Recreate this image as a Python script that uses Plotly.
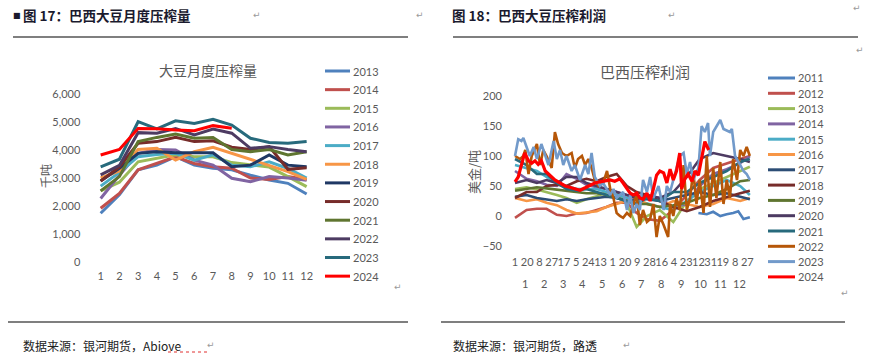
import plotly.graph_objects as go

W, H = 889, 361

# ---------------- Left chart data: monthly crush (千吨) ----------------
months = list(range(1, 13))
crush_years = [2013, 2014, 2015, 2016, 2017, 2018, 2019, 2020, 2021, 2022, 2023, 2024]
crush_2013 = [1740, 2400, 3290, 3460, 3760, 3460, 3350, 3290, 3100, 2930, 2810, 2430]
crush_2014 = [1920, 2450, 3290, 3520, 3760, 3520, 3400, 3350, 3000, 2950, 3050, 2950]
crush_2015 = [2540, 2850, 3580, 3700, 3830, 3760, 3760, 3550, 3460, 3390, 3050, 2690]
crush_2016 = [2270, 3100, 3880, 4020, 4000, 3640, 3460, 2990, 2870, 3050, 3000, 2920]
crush_2017 = [2710, 3200, 3760, 3840, 3880, 3640, 3830, 3460, 3400, 3580, 3340, 3000]
crush_2018 = [3000, 3250, 4020, 4060, 3640, 3940, 4100, 3880, 3670, 3460, 3230, 2950]
crush_2019 = [2890, 3350, 3880, 3940, 3900, 3900, 3900, 3400, 3460, 3820, 3460, 3400]
crush_2020 = [2890, 3400, 4240, 4300, 4450, 4300, 4330, 4100, 4020, 4120, 3310, 3370]
crush_2021 = [2540, 3050, 4300, 4450, 4570, 4420, 4450, 4020, 3940, 4020, 3820, 3940]
crush_2022 = [3110, 3450, 4620, 4600, 4770, 4540, 4750, 4600, 4060, 4120, 4020, 3940]
crush_2023 = [3400, 3670, 5010, 4750, 5040, 4950, 5100, 4890, 4420, 4270, 4240, 4300]
crush_2024 = [3820, 4020, 4770, 4760, 4710, 4690, 4870, 4780, None, None, None, None]
crush_series = [crush_2013, crush_2014, crush_2015, crush_2016, crush_2017, crush_2018,
                crush_2019, crush_2020, crush_2021, crush_2022, crush_2023, crush_2024]
crush_colors = ['#4F81BD', '#C0504D', '#9BBB59', '#8064A2', '#4BACC6', '#F79646',
                '#1F3864', '#772C2A', '#5F7530', '#4D3B62', '#276A7C', '#FF0000']
crush_yticks = [0, 1000, 2000, 3000, 4000, 5000, 6000]
crush_yticktext = ['0', '1,000', '2,000', '3,000', '4,000', '5,000', '6,000']

# ---------------- Right chart data: crush margin (美金/吨), x = day of year ----------------
margin_years = [2011, 2012, 2013, 2014, 2015, 2016, 2017, 2018, 2019, 2020, 2021, 2022, 2023, 2024]
grid_doy = [1, 19, 35, 50, 66, 81, 97, 112, 128, 143, 159, 175, 190, 206, 226, 247, 268, 288, 309, 330, 351, 366]

m2011_x = [286, 299, 309, 320, 330, 340, 348, 356, 366]
m2011_y = [5, 3, 7, 0, 3, 5, 8, -5, -2]
m2012_y = [-3, 10, 12, 12, 2, 0, 4, 5, 10, 15, 22, 22, 5, -5, -8, 10, 35, 60, 80, 88, 95, 100]
m2013_y = [45, 48, 44, 40, 35, 30, 22, 28, 33, 40, 38, 20, -18, 0, 10, -10, 25, 45, 55, 65, 75, 82]
m2014_y = [75, 62, 58, 52, 50, 70, 62, 52, 48, 45, 40, 35, 30, 35, 30, 15, 20, 50, 70, 78, 88, 100]
m2015_y = [85, 80, 75, 65, 55, 50, 45, 45, 45, 40, 35, 30, 25, 20, 15, 10, 25, 40, 50, 60, 50, 35]
m2016_y = [30, 25, 28, 22, 18, 10, 4, 6, 8, 15, 20, 25, 30, 20, 15, 25, 20, 15, 20, 30, 25, 30]
m2017_y = [32, 35, 30, 28, 25, 28, 25, 28, 30, 32, 30, 25, 28, 28, 25, 30, 35, 40, 35, 38, 32, 28]
m2018_y = [30, 40, 40, 50, 52, 50, 58, 62, 58, 65, 70, 50, 40, 35, 25, 15, 8, 15, 25, 32, 38, 42]
m2019_y = [42, 45, 48, 46, 44, 42, 40, 38, 38, 35, 30, 25, 20, 20, 15, 18, 22, 30, 35, 45, 58, 60]
m2020_y = [55, 60, 55, 60, 55, 65, 65, 55, 50, 45, 40, 35, 30, 35, 30, 40, 65, 95, 105, 100, 95, 90]
m2021_y = [95, 85, 70, 70, 55, 45, 42, 45, 40, 35, 30, 25, 20, 30, 25, 40, 40, 55, 65, 75, 90, 95]

m2022_x = [1, 9, 14, 17, 22, 27, 35, 40, 45, 50, 58, 63, 68, 74, 81, 89, 94, 99, 105, 110, 115, 120,
           125, 131, 138, 144, 149, 154, 159, 164, 169, 175, 180, 185, 190, 195, 200, 206, 211, 216,
           221, 226, 232, 239, 242, 247, 252, 257, 263, 268, 273, 278, 283, 288, 294, 299, 304, 309,
           314, 320, 325, 330, 335, 340, 346, 351, 356, 361, 366]
m2022_y = [100, 95, 100, 110, 70, 100, 120, 85, 110, 100, 80, 140, 120, 105, 100, 105, 80, 95, 100, 85,
           95, 80, 60, 50, 55, 75, 45, 30, 5, 0, -3, 5, 0, 20, 35, -15, 10, -10, -5, 20, -35, 0, -15,
           -35, 20, 0, 30, 10, 85, 10, 30, 75, 20, 60, 5, 100, 15, 80, 30, 90, 20, 60, 30, 95, 60, 110,
           100, 115, 100]

m2023_x = [1, 6, 11, 14, 19, 24, 30, 35, 42, 48, 53, 58, 61, 66, 71, 76, 81, 89, 94, 102, 110, 115,
           120, 125, 133, 138, 149, 154, 159, 169, 175, 180, 185, 190, 195, 200, 206, 211, 216, 224,
           232, 237, 242, 257, 263, 268, 273, 278, 286, 291, 296, 301, 304, 309, 320, 325, 335, 338,
           343, 351, 356, 361, 366]
m2023_y = [100, 128, 125, 130, 115, 100, 115, 95, 120, 100, 85, 110, 125, 95, 110, 85, 100, 75, 85,
           60, 85, 70, 105, 65, 50, 55, 35, 45, 30, 40, 10, 35, 5, 20, 10, 60, 40, 65, 30, 50, 10, 50,
           40, 100, 105, 70, 90, 60, 80, 150, 140, 155, 100, 140, 160, 145, 140, 145, 100, 85, 75, 70, 60]

m2024_x = [1, 6, 11, 16, 22, 27, 32, 37, 42, 48, 53, 58, 63, 71, 79, 86, 94, 102, 110, 118, 125, 133,
           141, 149, 156, 164, 169, 175, 180, 185, 190, 195, 200, 206, 211, 216, 221, 226, 232, 237,
           242, 247, 252, 257, 260, 265, 270, 276, 281, 286, 291, 296, 302]
m2024_y = [57, 65, 85, 105, 92, 88, 92, 86, 92, 75, 70, 65, 60, 55, 50, 48, 45, 43, 47, 52, 55, 57,
           58, 60, 58, 62, 55, 45, 38, 35, 38, 30, 28, 38, 25, 45, 68, 75, 72, 55, 78, 60, 75, 105, 45,
           62, 70, 58, 75, 68, 100, 124, 110]

margin_x = [m2011_x] + [grid_doy] * 10 + [m2022_x, m2023_x, m2024_x]
margin_y = [m2011_y, m2012_y, m2013_y, m2014_y, m2015_y, m2016_y, m2017_y, m2018_y, m2019_y,
            m2020_y, m2021_y, m2022_y, m2023_y, m2024_y]
margin_colors = ['#4F81BD', '#C0504D', '#9BBB59', '#8064A2', '#4BACC6', '#F79646', '#2C4D75',
                 '#772C2A', '#5F7530', '#4D3B62', '#276A7C', '#B65708', '#729ACA', '#FF0000']
margin_yticks = [-50, 0, 50, 100, 150, 200]
day_tick_doy = [1, 20, 39, 58, 77, 96, 115, 134, 153, 172, 191, 210, 229, 248, 267, 286, 305, 324, 343, 362]
day_tick_text = ['1', '20', '8', '27', '17', '5', '24', '13', '1', '20', '9', '28', '16', '4', '23',
                 '12', '31', '19', '8', '27']
month_center_doy = [16, 45.5, 75.5, 106, 136.5, 167, 197.5, 228.5, 259, 289.5, 320, 350.5]
month_labels = [str(m) for m in range(1, 13)]


def px(x):
    return x / W


def py(y):
    return 1 - y / H


GRAY = '#595959'
NUM_FONT = 'Lato, Liberation Sans, sans-serif'
CJK_FONT = 'Noto Sans CJK SC, sans-serif'

fig = go.Figure()

for yr, vals, col in zip(crush_years, crush_series, crush_colors):
    fig.add_trace(go.Scatter(x=months, y=vals, mode='lines', name=str(yr),
                             line=dict(color=col, width=3), xaxis='x', yaxis='y',
                             showlegend=False, connectgaps=False))

for yr, xs, ys, col in zip(margin_years, margin_x, margin_y, margin_colors):
    fig.add_trace(go.Scatter(x=xs, y=ys, mode='lines', name=str(yr),
                             line=dict(color=col, width=3.2 if yr == 2024 else 2.6),
                             xaxis='x2', yaxis='y2', showlegend=False))

# Plot area pixel bounds
L1, R1, T1, B1 = 91.3, 316.0, 94.0, 262.0
L2, R2, T2, B2 = 513.0, 751.0, 96.0, 246.0
x2_lo = 1 - (515.0 - L2) / 0.6435
x2_hi = 362 + (R2 - 747.3) / 0.6435

axis_common = dict(showgrid=False, zeroline=False, showline=False, ticks='', automargin=False,
                   tickfont=dict(family=NUM_FONT, size=11, color=GRAY))

fig.update_layout(
    template='none',
    width=W, height=H, margin=dict(l=0, r=0, t=0, b=0, pad=0, autoexpand=False),
    paper_bgcolor='white', plot_bgcolor='white',
    xaxis=dict(domain=[px(L1), px(R1)], range=[0.5, 12.5], tickvals=months,
               ticktext=[str(m) for m in months], anchor='y', ticklabelstandoff=6, **axis_common),
    yaxis=dict(domain=[py(B1), py(T1)], range=[0, 6000], tickvals=crush_yticks,
               ticktext=crush_yticktext, anchor='x', ticklabelstandoff=10, **axis_common),
    xaxis2=dict(domain=[px(L2), px(R2)], range=[x2_lo, x2_hi], tickvals=day_tick_doy,
                ticktext=day_tick_text, anchor='y2', ticklabelstandoff=8, tickangle=0, **axis_common),
    yaxis2=dict(domain=[py(B2), py(T2)], range=[-50, 200], tickvals=margin_yticks,
                anchor='x2', ticklabelstandoff=10, **axis_common),
    showlegend=False,
)

ann = []
shapes = []


def text_ann(text, x, y, size, family, color, xanchor='center', xref='paper', angle=0):
    return dict(text=text, x=x, y=y, xref=xref, yref='paper', xanchor=xanchor, yanchor='middle',
                textangle=angle, showarrow=False, borderpad=0,
                font=dict(family=family, size=size, color=color))


# chart titles
ann.append(text_ann('大豆月度压榨量', px(208), py(70), 14, CJK_FONT, GRAY))
ann.append(text_ann('巴西压榨利润', px(645), py(71), 15, CJK_FONT, GRAY))
# axis titles
ann.append(text_ann('千吨', px(45), py(176), 12, CJK_FONT, GRAY, angle=-90))
ann.append(text_ann('美金/吨', px(473), py(172), 13, CJK_FONT, GRAY, angle=-90))

# month labels (second row of right x axis)
for mc, ml in zip(month_center_doy, month_labels):
    ann.append(text_ann(ml, mc, py(283), 11, NUM_FONT, GRAY, xref='x2'))

# legends
for i, (yr, col) in enumerate(zip(crush_years, crush_colors)):
    yy = 71 + i * 18.65
    shapes.append(dict(type='line', xref='paper', yref='paper', x0=px(325), x1=px(350),
                       y0=py(yy), y1=py(yy), line=dict(color=col, width=3)))
    ann.append(text_ann(str(yr), px(352), py(yy), 11, NUM_FONT, GRAY, xanchor='left'))
for i, (yr, col) in enumerate(zip(margin_years, margin_colors)):
    yy = 78 + i * 15.3
    shapes.append(dict(type='line', xref='paper', yref='paper', x0=px(768), x1=px(795),
                       y0=py(yy), y1=py(yy), line=dict(color=col, width=3)))
    ann.append(text_ann(str(yr), px(797), py(yy), 11, NUM_FONT, GRAY, xanchor='left'))

# document headers
HDR = '#1a1a2e'
ann.append(text_ann('■', px(12), py(15), 8, 'DejaVu Sans', HDR, xanchor='left'))
ann.append(text_ann('<b>图 17：巴西大豆月度压榨量</b>', px(22), py(15), 13.5, CJK_FONT, HDR, xanchor='left'))
ann.append(text_ann('<b>图 18：巴西大豆压榨利润</b>', px(451), py(15), 13.5, CJK_FONT, HDR, xanchor='left'))
ann.append(text_ann('数据来源：银河期货，Abiove', px(22), py(345), 12, CJK_FONT, '#222222', xanchor='left'))
ann.append(text_ann('数据来源：银河期货，路透', px(452), py(345), 12, CJK_FONT, '#222222', xanchor='left'))

# paragraph marks
for (mx, my) in [(257, 15), (420, 15), (672, 15), (857, 8), (860, 50), (398, 287), (845, 293),
                 (211, 345), (627, 345)]:
    ann.append(text_ann('↵', px(mx), py(my), 9, 'DejaVu Sans', '#9a9a9a'))

# rules
for (x0, x1, yy) in [(13, 408, 37), (453, 858, 37), (8, 408, 322), (441, 845, 322)]:
    shapes.append(dict(type='line', xref='paper', yref='paper', x0=px(x0), x1=px(x1),
                       y0=py(yy), y1=py(yy), line=dict(color='black', width=1.2)))
# spell-check underline under "Abiove"
shapes.append(dict(type='line', xref='paper', yref='paper', x0=px(168), x1=px(208),
                   y0=py(352), y1=py(352), line=dict(color='#e03030', width=1, dash='dot')))

fig.update_layout(annotations=ann, shapes=shapes)
fig.write_html('out.html', config={'displayModeBar': False},
               post_script="document.body.style.margin='0';document.body.style.padding='0';"
                           "document.body.style.overflow='hidden';")
